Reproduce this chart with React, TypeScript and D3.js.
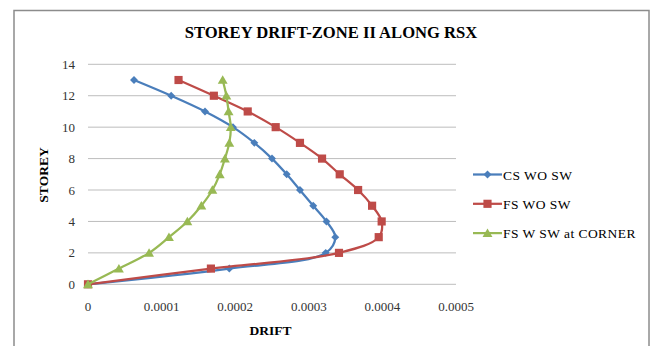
import React from "react";
import * as d3 from "d3";

const storeys = [0, 1, 2, 3, 4, 5, 6, 7, 8, 9, 10, 11, 12, 13];
const csWoSw = [0, 0.000192, 0.000323, 0.000336, 0.000324, 0.000306, 0.000288, 0.00027, 0.00025, 0.000226, 0.000197, 0.000159, 0.000113, 0.0000625];
const fsWoSw = [0, 0.000167, 0.000341, 0.000395, 0.000399, 0.000386, 0.000367, 0.000342, 0.000318, 0.000288, 0.000255, 0.000217, 0.000171, 0.000123];
const fsWSwCorner = [0, 0.000042, 0.000083, 0.00011, 0.000135, 0.000154, 0.000169, 0.000179, 0.000186, 0.000192, 0.000194, 0.000191, 0.000188, 0.000183];
const seriesNames = ["CS WO SW", "FS WO SW", "FS W SW at CORNER"];
const xTicks = [0, 0.0001, 0.0002, 0.0003, 0.0004, 0.0005];
const yTicks = [0, 2, 4, 6, 8, 10, 12, 14];

const W = 654;
const H = 346;
const FONT = "'Liberation Serif', 'Times New Roman', serif";

const x = d3.scaleLinear().domain([0, 0.0005]).range([88, 456]);
const y = d3.scaleLinear().domain([0, 14]).range([284.3, 64.3]);

const colors = ["#4A7EBB", "#BE4B48", "#98B954"];
const symbols = [d3.symbolDiamond2, d3.symbolSquare2, d3.symbolTriangle2];
const symbolSizes = [40, 85, 70];

const line = d3
  .line<[number, number]>()
  .x((d) => x(d[0]))
  .y((d) => y(d[1]))
  .curve(d3.curveCatmullRom.alpha(0.5));

function Marker({ cx, cy, i }: { cx: number; cy: number; i: number }) {
  const p = d3.symbol().type(symbols[i]).size(symbolSizes[i])() || "";
  const dy = i === 2 ? 1 : 0;
  return <path d={p} transform={`translate(${cx},${cy + dy})`} fill={colors[i]} stroke="none" />;
}

export default function App() {
  const all = [csWoSw, fsWoSw, fsWSwCorner];
  const fmt = (v: number) => (v === 0 ? "0" : d3.format(".4f")(v));
  return (
    <svg width={W} height={H} style={{ position: "fixed", left: 0, top: 0, display: "block" }} fontFamily={FONT}>
      <rect x={0} y={0} width={W} height={H} fill="#fff" />
      <rect x={14} y={10.5} width={635} height={350} fill="#fff" stroke="#8c8c8c" strokeWidth={1.5} />
      <text x={331} y={38} textAnchor="middle" fontSize={16.6} fontWeight="bold" fill="#000">
        STOREY DRIFT-ZONE II ALONG RSX
      </text>
      {yTicks.map((t) => (
        <g key={t}>
          <line x1={x(0)} x2={x(0.0005)} y1={y(t)} y2={y(t)} stroke="#bdbdbd" strokeWidth={1} />
          <text x={75} y={y(t) + 4.5} textAnchor="end" fontSize={13} fill="#333">
            {t}
          </text>
        </g>
      ))}
      {xTicks.map((t) => (
        <text key={t} x={x(t)} y={311} textAnchor="middle" fontSize={13} fill="#333">
          {fmt(t)}
        </text>
      ))}
      <text x={270.5} y={335} textAnchor="middle" fontSize={13.5} fontWeight="bold" fill="#000">
        DRIFT
      </text>
      <text
        transform={`translate(48,175) rotate(-90)`}
        textAnchor="middle"
        fontSize={13.5}
        fontWeight="bold"
        fill="#000"
      >
        STOREY
      </text>
      {all.map((vals, i) => {
        const pts: [number, number][] = vals.map((v, k) => [v, storeys[k]]);
        return (
          <g key={i}>
            <path d={line(pts) || ""} fill="none" stroke={colors[i]} strokeWidth={2.25} />
            {pts.map((p, k) => (
              <Marker key={k} cx={x(p[0])} cy={y(p[1])} i={i} />
            ))}
          </g>
        );
      })}
      {seriesNames.map((n, i) => {
        const ly = 174.5 + i * 29.3;
        return (
          <g key={n}>
            <line x1={473} x2={502} y1={ly} y2={ly} stroke={colors[i]} strokeWidth={2.25} />
            <Marker cx={487.5} cy={ly} i={i} />
            <text x={503} y={ly + 5} fontSize={13.5} letterSpacing={0.45} fill="#000">
              {n}
            </text>
          </g>
        );
      })}
    </svg>
  );
}
